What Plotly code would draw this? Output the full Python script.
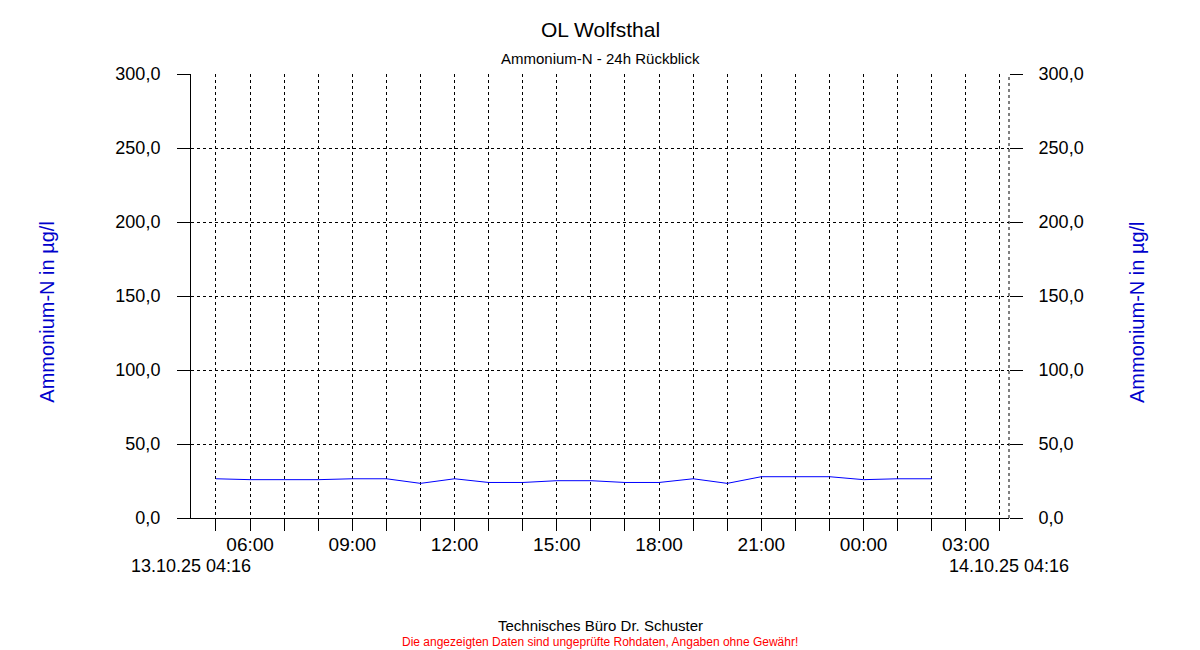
import plotly.graph_objects as go
from datetime import datetime

# ---- data -------------------------------------------------------------
title_text = "OL Wolfsthal"
subtitle_text = "Ammonium-N - 24h Rückblick"
y_title = "Ammonium-N in µg/l"
footer_text = "Technisches Büro Dr. Schuster"
disclaimer_text = "Die angezeigten Daten sind ungeprüfte Rohdaten, Angaben ohne Gewähr!"

range_start = "2025-10-13 04:16"
range_end = "2025-10-14 04:16"

times = [
    "2025-10-13 05:00", "2025-10-13 06:00", "2025-10-13 07:00", "2025-10-13 08:00",
    "2025-10-13 09:00", "2025-10-13 10:00", "2025-10-13 11:00", "2025-10-13 12:00",
    "2025-10-13 13:00", "2025-10-13 14:00", "2025-10-13 15:00", "2025-10-13 16:00",
    "2025-10-13 17:00", "2025-10-13 18:00", "2025-10-13 19:00", "2025-10-13 20:00",
    "2025-10-13 21:00", "2025-10-13 22:00", "2025-10-13 23:00", "2025-10-14 00:00",
    "2025-10-14 01:00", "2025-10-14 02:00",
]
values = [
    26.5, 25.9, 25.9, 25.9, 26.5, 26.5, 23.4, 26.5, 24.0, 24.0, 25.2,
    25.2, 24.0, 24.0, 26.5, 23.4, 27.9, 27.9, 27.9, 25.9, 26.5, 26.5,
]

x_tick_vals = [
    "2025-10-13 05:00", "2025-10-13 06:00", "2025-10-13 07:00", "2025-10-13 08:00",
    "2025-10-13 09:00", "2025-10-13 10:00", "2025-10-13 11:00", "2025-10-13 12:00",
    "2025-10-13 13:00", "2025-10-13 14:00", "2025-10-13 15:00", "2025-10-13 16:00",
    "2025-10-13 17:00", "2025-10-13 18:00", "2025-10-13 19:00", "2025-10-13 20:00",
    "2025-10-13 21:00", "2025-10-13 22:00", "2025-10-13 23:00", "2025-10-14 00:00",
    "2025-10-14 01:00", "2025-10-14 02:00", "2025-10-14 03:00", "2025-10-14 04:00",
]
x_tick_text = [
    "", "06:00", "", "", "09:00", "", "", "12:00", "", "", "15:00", "",
    "", "18:00", "", "", "21:00", "", "", "00:00", "", "", "03:00", "",
]
y_tick_vals = [0, 50, 100, 150, 200, 250, 300]
y_range = [0, 300]

# ---- figure -----------------------------------------------------------
FONT = "Liberation Sans, Arial, sans-serif"
GRID = dict(showgrid=True, gridcolor="black", gridwidth=1, griddash="3px,3px")

fig = go.Figure()
fig.add_trace(go.Scatter(
    x=times, y=values, mode="lines",
    line=dict(color="#0000ff", width=1),
    showlegend=False, hoverinfo="x+y",
))
# same series on the right-hand axis (invisible) so the axis is rendered
fig.add_trace(go.Scatter(
    x=times, y=values, mode="lines", yaxis="y2",
    line=dict(color="rgba(0,0,0,0)", width=0),
    showlegend=False, hoverinfo="skip",
))

fmt = "%Y-%m-%d %H:%M"
start_label = datetime.strptime(range_start, fmt).strftime("%d.%m.%y %H:%M")
end_label = datetime.strptime(range_end, fmt).strftime("%d.%m.%y %H:%M")

tick_font = dict(family=FONT, size=18, color="black")

# the page body has an 8px margin, so the figure is sized/offset to compensate
fig.update_layout(
    width=1192, height=642,
    margin=dict(l=183, r=191, t=66, b=132, autoexpand=False),
    paper_bgcolor="white", plot_bgcolor="white",
    separators=",.",
    font=dict(family=FONT, color="black"),
    xaxis=dict(
        type="date", range=[range_start, range_end],
        tickmode="array", tickvals=x_tick_vals, ticktext=x_tick_text,
        ticks="outside", ticklen=12, tickwidth=1, tickcolor="black",
        ticklabelstandoff=-3,
        showline=True, linecolor="black", linewidth=1,
        zeroline=False, tickfont=dict(family=FONT, size=19, color="black"),
        **GRID,
    ),
    yaxis=dict(
        range=y_range, tickmode="array", tickvals=y_tick_vals,
        tickformat=".1f", ticklabelstandoff=13,
        ticks="outside", ticklen=13, tickwidth=1, tickcolor="black",
        showline=True, linecolor="black", linewidth=1,
        zeroline=False, tickfont=tick_font, **GRID,
    ),
    yaxis2=dict(
        range=y_range, tickmode="array", tickvals=y_tick_vals,
        tickformat=".1f", overlaying="y", side="right", ticklabelstandoff=12,
        ticks="outside", ticklen=13, tickwidth=1, tickcolor="black",
        showline=False, showgrid=False, zeroline=False, tickfont=tick_font,
    ),
    shapes=[dict(
        type="line", xref="paper", yref="paper", x0=1, x1=1, y0=0, y1=1,
        line=dict(color="black", width=1, dash="3px,3px"),
    )],
    annotations=[
        dict(text=title_text, xref="paper", yref="paper", x=0.5, y=1.101,
             xanchor="center", yanchor="middle", showarrow=False,
             font=dict(family=FONT, size=21, color="black")),
        dict(text=subtitle_text, xref="paper", yref="paper", x=0.5, y=1.034,
             xanchor="center", yanchor="middle", showarrow=False,
             font=dict(family=FONT, size=15, color="black")),
        dict(text=y_title, xref="paper", yref="paper", x=-0.1764, y=0.464,
             xanchor="center", yanchor="middle", textangle=-90, showarrow=False,
             font=dict(family=FONT, size=20, color="#0000cc")),
        dict(text=y_title, xref="paper", yref="paper", x=1.1565, y=0.464,
             xanchor="center", yanchor="middle", textangle=-90, showarrow=False,
             font=dict(family=FONT, size=20, color="#0000cc")),
        dict(text=start_label, xref="paper", yref="paper", x=0, y=-0.108,
             xanchor="center", yanchor="middle", showarrow=False,
             font=dict(family=FONT, size=18, color="black")),
        dict(text=end_label, xref="paper", yref="paper", x=1, y=-0.108,
             xanchor="center", yanchor="middle", showarrow=False,
             font=dict(family=FONT, size=18, color="black")),
        dict(text=footer_text, xref="paper", yref="paper", x=0.5, y=-0.243,
             xanchor="center", yanchor="middle", showarrow=False,
             font=dict(family=FONT, size=15, color="black")),
        dict(text=disclaimer_text, xref="paper", yref="paper", x=0.5, y=-0.279,
             xanchor="center", yanchor="middle", showarrow=False,
             font=dict(family=FONT, size=12, color="#ff0000")),
    ],
)

fig.write_html("out.html")
